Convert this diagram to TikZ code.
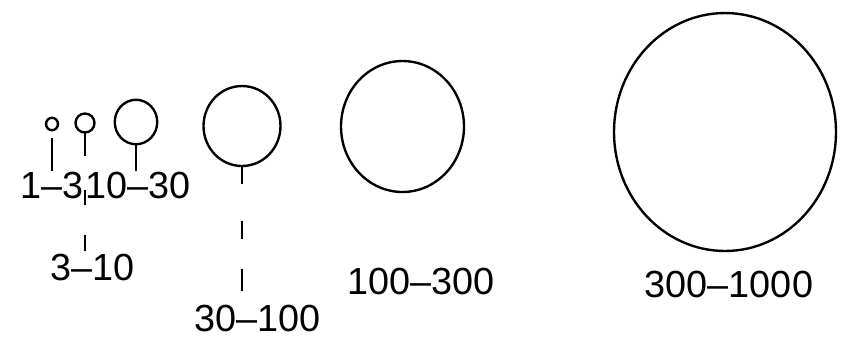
\documentclass[tikz,border=0pt]{standalone}
\usepackage{fontspec}
\setmainfont{Liberation Sans}
\usepackage{tikz}
\usetikzlibrary{shapes.geometric, calc}

\begin{document}
\begin{tikzpicture}[x=0.02cm, y=-0.02cm,
		bub/.style={draw, ellipse, line width=1.35pt, inner sep=0pt, outer sep=0pt},
		lab/.style={anchor=base, inner sep=0pt, font=\fontsize{21.5}{24}\selectfont},
		tick/.style={line width=1.1pt}]
	\useasboundingbox (0,0) rectangle (847,346);
	% Kreise
	\node[bub, minimum width=0.24cm, minimum height=0.25cm] (c1) at (52,124) {};
	\node[bub, minimum width=0.38cm, minimum height=0.38cm] (c2) at (85,123) {};
	\node[bub, minimum width=0.85cm, minimum height=0.89cm] (c3) at (136,122) {};
	\node[bub, minimum width=1.54cm, minimum height=1.60cm] (c4) at (242,126) {};
	\node[bub, minimum width=2.46cm, minimum height=2.62cm] (c5) at (402.5,126.5) {};
	\node[bub, minimum width=4.44cm, minimum height=4.76cm] (c6) at (725,132) {};

	% Beschriftungen
	\node[lab] (l1) at (52,198) {1--3};
	\node[lab] (l3) at (138,198) {10--30};
	\node[lab] (l2) at (93,280) {3--10};
	\node[lab] (l4) at (258,331) {30--100};
	\node[lab] (l5) at (421,294) {100--300};
	\node[lab] (l6) at (729,297) {300--1000};

	% Verbindungen
	\draw[tick, shorten <=0.16cm] (c1) -- (c1 |- l1.north);
	\draw[tick] (c3) -- (c3 |- l3.north);
	\draw[tick, dash pattern=on 13.1pt off 19.9pt on 8.5pt off 17.1pt on 9.1pt off 40pt]
		(c2.south) -- (c2.south |- l2.north);
	\draw[tick, shorten >=0.24cm, dash pattern=on 10.2pt off 21.1pt on 10.2pt off 17.1pt on 12.5pt off 40pt]
		(c4.south) -- (c4.south |- l4.north);
\end{tikzpicture}
\end{document}
